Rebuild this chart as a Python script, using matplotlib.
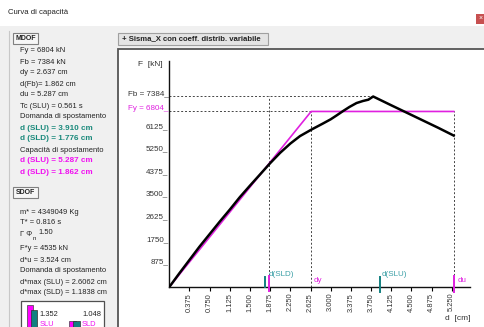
import numpy as np
import matplotlib
matplotlib.use('Agg')
import matplotlib.pyplot as plt
from matplotlib.patches import Rectangle
from matplotlib.transforms import blended_transform_factory

plt.rcParams['font.family'] = ['Liberation Sans', 'DejaVu Sans']

# capacity curve of the structure, d [cm] - F [kN]
d_curve = [0.0, 0.19, 0.375, 0.56, 0.75, 0.94, 1.125, 1.31, 1.50, 1.69, 1.875,
           2.06, 2.25, 2.43, 2.65, 2.85, 3.00, 3.11, 3.23, 3.35, 3.48, 3.60,
           3.70, 3.79, 4.10, 4.38, 4.70, 5.00, 5.287]
F_curve = [0, 540, 1050, 1560, 2050, 2540, 3000, 3480, 3930, 4370, 4800,
           5200, 5560, 5850, 6110, 6330, 6500, 6650, 6820, 6980, 7130, 7210,
           7260, 7384, 7070, 6790, 6470, 6170, 5870]

# bilinear equivalent and reference values
Fy = 6804
Fb = 7384
dy = 2.637
d_Fb = 1.862
du = 5.287
d_slu = 3.910
d_sld = 1.776
d_sld_cap = 1.862

xticks = [0.375 * i for i in range(1, 15)]
yticks = [875 * i for i in range(1, 8)]

mdof_lines = ["Fy = 6804 kN", "Fb = 7384 kN", "dy = 2.637 cm", "d(Fb)= 1.862 cm",
              "du = 5.287 cm", "Tc (SLU) = 0.561 s", "Domanda di spostamento"]
mdof_demand = ["d (SLU) = 3.910 cm", "d (SLD) = 1.776 cm"]
mdof_capacity = ["d (SLU) = 5.287 cm", "d (SLD) = 1.862 cm"]
sdof_top = ["m* = 4349049 Kg", "T* = 0.816 s"]
sdof_bottom = ["F*y = 4535 kN", "d*u = 3.524 cm", "Domanda di spostamento",
               "d*max (SLU) = 2.6062 cm", "d*max (SLD) = 1.1838 cm"]
gamma_phi = "1.50"
ratio_slu = "1.352"
ratio_sld = "1.048"

TEAL = '#128080'
TEAL_TXT = '#1b8a7c'
TEAL_LBL = '#3a9fa6'
MAGENTA = '#e020e0'
MAG_TXT = '#f010f0'
DARK = '#222222'

fig = plt.figure(figsize=(4.85, 3.27), dpi=100)
fig.patch.set_facecolor('#f0f0f0')

# window background, drawn in pixel units
bg = fig.add_axes([0, 0, 1, 1])
bg.set_xlim(0, 485)
bg.set_ylim(327, 0)
bg.axis('off')

bg.add_patch(Rectangle((0, 0), 485, 26, facecolor='white', edgecolor='none'))
bg.text(8, 13, "Curva di capacità", fontsize=5.6, va='center', color=DARK)
bg.add_patch(Rectangle((476, 13.5), 9, 10.5, facecolor='#c75050', edgecolor='none'))
bg.text(480.5, 18.5, "×", fontsize=5, color='white', ha='center', va='center')

# left group box
bg.plot([9.5, 9.5], [31, 327], color='#c8c8c8', lw=0.8)

# chart panel
bg.add_patch(Rectangle((118.5, 48.5), 370, 290, facecolor='white',
                       edgecolor='#555555', lw=1.3))
bg.add_patch(Rectangle((118.5, 32.5), 150, 12, facecolor='#e4e4e4',
                       edgecolor='#a0a0a0', lw=0.8))
bg.text(122, 38.5, "+ Sisma_X con coeff. distrib. variabile", fontsize=5.6,
        fontweight='bold', va='center', color=DARK)


def tab_box(y, label):
    bg.add_patch(Rectangle((13, y), 25, 11, facecolor='#f6f6f6',
                           edgecolor='#808080', lw=0.8))
    bg.text(25.5, y + 5.5, label, fontsize=5, fontweight='bold',
            ha='center', va='center', color=DARK)


tab_box(33, "MDOF")
step = 11.0
y = 51
for s in mdof_lines:
    bg.text(20, y, s, fontsize=5.4, va='center', color=DARK)
    y += step
for s in mdof_demand:
    bg.text(20, y, s, fontsize=5.9, fontweight='bold', va='center', color=TEAL_TXT)
    y += step
bg.text(20, y, "Capacità di spostamento", fontsize=5.4, va='center', color=DARK)
y += step
for s in mdof_capacity:
    bg.text(20, y, s, fontsize=5.9, fontweight='bold', va='center', color=MAG_TXT)
    y += step

tab_box(187, "SDOF")
y = 212
for s in sdof_top:
    bg.text(20, y, s, fontsize=5.4, va='center', color=DARK)
    y += step
bg.text(20, 235, "Γ Φ", fontsize=5.4, va='center', color=DARK)
bg.text(32.5, 239, "n", fontsize=4.5, va='center', color=DARK)
bg.text(38, 232, gamma_phi, fontsize=5.4, va='center', color=DARK)
y = 249
for s in sdof_bottom:
    bg.text(20, y, s, fontsize=5.4, va='center', color=DARK)
    y += step

# ratio icons
bg.add_patch(Rectangle((21, 301), 83, 40, facecolor='white', edgecolor='#505050', lw=0.9))
bg.add_patch(Rectangle((27, 305), 6, 30, facecolor='#ff00ff', edgecolor='#404040', lw=0.5))
bg.add_patch(Rectangle((31, 310), 6, 30, facecolor=TEAL, edgecolor='#303030', lw=0.5))
bg.add_patch(Rectangle((69, 320.5), 7, 20, facecolor='#ff00ff', edgecolor='#404040', lw=0.5))
bg.add_patch(Rectangle((73, 321), 7, 20, facecolor=TEAL, edgecolor='#303030', lw=0.5))
bg.text(39, 314, ratio_slu, fontsize=5.4, va='center', color=DARK)
bg.text(101, 314, ratio_sld, fontsize=5.4, va='center', ha='right', color=DARK)
bg.text(40, 324, "SLU", fontsize=5.4, va='center', color=MAG_TXT)
bg.text(82, 324, "SLD", fontsize=5.4, va='center', color=MAG_TXT)

# chart axes placed over the panel
X0, X1, Y0, Y1 = 169.3, 470, 287, 61
ax = fig.add_axes([X0 / 485, 1 - Y0 / 327, (X1 - X0) / 485, (Y0 - Y1) / 327])
ax.patch.set_visible(False)
ax.set_xlim(0, 5.59)
ax.set_ylim(0, 8760)
for side in ('top', 'right'):
    ax.spines[side].set_visible(False)
for side in ('left', 'bottom'):
    ax.spines[side].set_color('#111111')
    ax.spines[side].set_linewidth(1.0)

ax.set_xticks(xticks, [f"{v:.3f}" for v in xticks])
ax.tick_params(axis='x', length=3, width=0.8, pad=1.2, labelsize=5.4,
               labelcolor='#333333', labelrotation=90)
ax.set_yticks([])

ytr = blended_transform_factory(ax.transAxes, ax.transData)
for v in yticks:
    ax.text(-0.003, v + 40, f"{v}_", transform=ytr, ha='right', va='baseline',
            fontsize=5.8, color='#333333')
ax.text(-0.003, Fb + 40, f"Fb = {Fb}_", transform=ytr, ha='right', va='baseline',
        fontsize=5.8, color='#333333')
ax.text(-0.003, Fy + 40, f"Fy = {Fy}_", transform=ytr, ha='right', va='baseline',
        fontsize=5.8, color=MAGENTA)

# reference lines
dash = dict(color='#444444', lw=0.7, ls=(0, (2, 2)))
d_peak = d_curve[int(np.argmax(F_curve))]
ax.plot([0, d_peak], [Fb, Fb], **dash)
ax.plot([0, du], [Fy, Fy], **dash)
ax.plot([d_Fb, d_Fb], [0, Fb], **dash)
ax.plot([dy, dy], [0, Fy], **dash)
ax.plot([du, du], [0, Fy], **dash)

ax.plot([0, dy, du], [0, Fy, Fy], color=MAGENTA, lw=1.2, zorder=3)
ax.plot(d_curve, F_curve, color='black', lw=1.8, zorder=4)

# displacement markers on the d axis
ax.plot([d_sld, d_sld], [0, 400], color=TEAL, lw=1.4, clip_on=False, zorder=5)
ax.plot([d_sld_cap, d_sld_cap], [-150, 420], color=MAGENTA, lw=1.4, clip_on=False, zorder=5)
ax.plot([d_slu, d_slu], [-180, 400], color=TEAL, lw=1.4, clip_on=False, zorder=5)
ax.plot([du, du], [-180, 420], color=MAGENTA, lw=1.4, clip_on=False, zorder=5)
ax.text(d_sld_cap - 0.02, 500, "d(SLD)", fontsize=5.8, color=TEAL_LBL, va='center')
ax.text(dy + 0.04, 270, "dy", fontsize=5.8, color=MAGENTA, va='center')
ax.text(d_slu + 0.03, 500, "d(SLU)", fontsize=5.8, color=TEAL_LBL, va='center')
ax.text(du + 0.07, 270, "du", fontsize=5.8, color=MAGENTA, va='center')

bg.text(150, 65, "F  [kN]", fontsize=6, ha='center', va='center', color='#333333')
bg.text(458, 319, "d  [cm]", fontsize=6, ha='center', va='center', color='#333333')

fig.savefig('out.png', dpi=100)
